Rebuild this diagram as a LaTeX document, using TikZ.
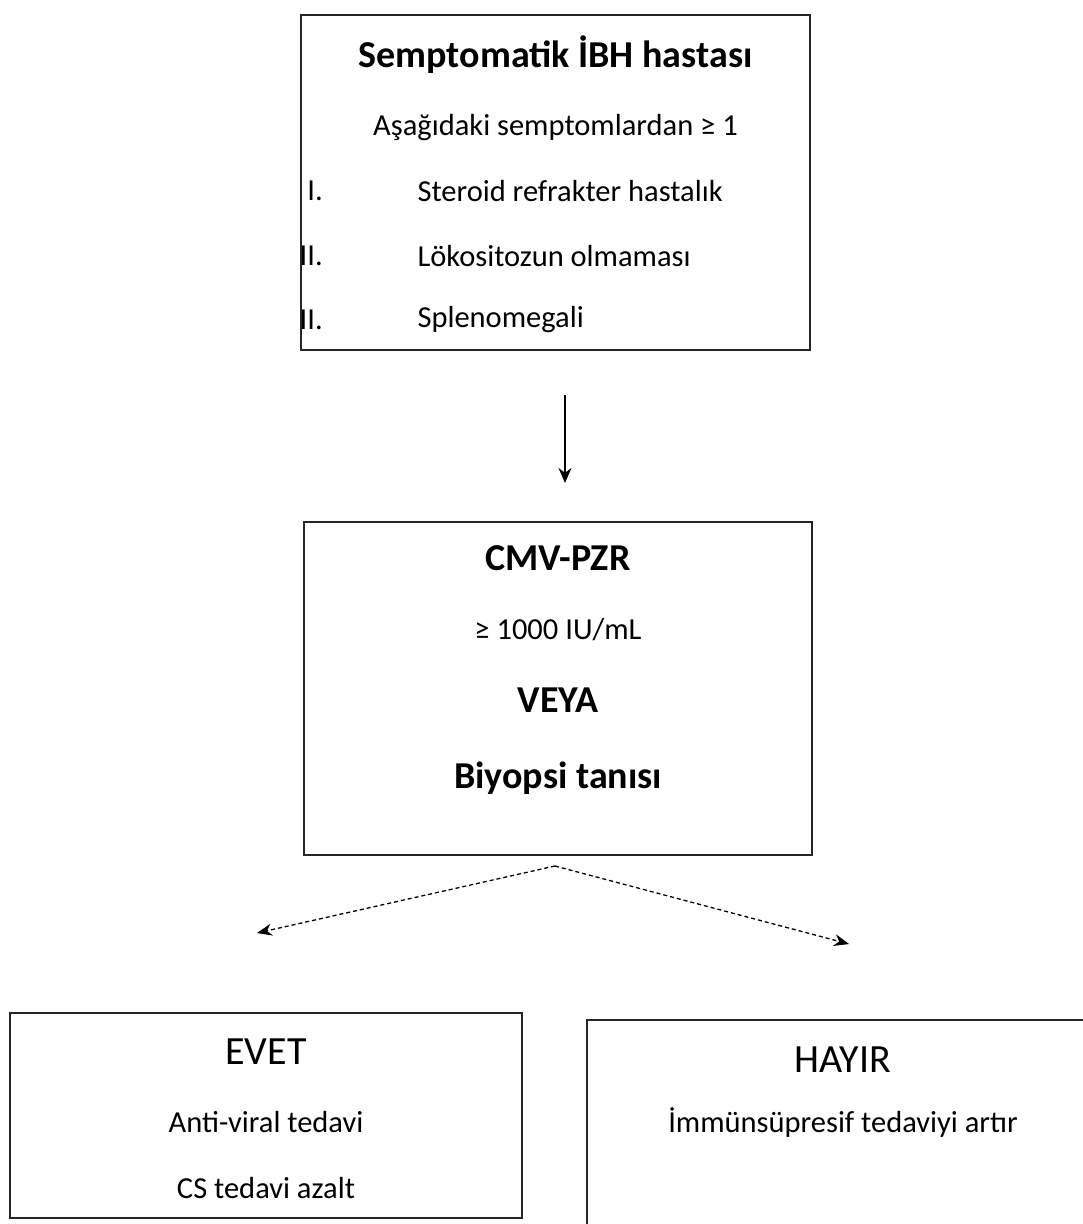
\documentclass[tikz,border=0pt]{standalone}
\usepackage{fontspec}
\setmainfont{Carlito}
\usepackage{tikz}
\usetikzlibrary{positioning}
\usetikzlibrary{shapes.geometric, arrows.meta}
\tikzstyle{arrow} = [-{Stealth[length=15pt,width=13pt]},line width=1.1pt]
\tikzstyle{dasharrow} = [-{Stealth[length=15pt,width=12pt]},line width=1.3pt,dash pattern=on 4pt off 3pt]
\tikzstyle{box} = [draw=black!85,line width=1.6pt,rectangle,inner sep=0pt]
\tikzstyle{head} = [font=\fontsize{38}{44}\selectfont\bfseries]
\tikzstyle{answer} = [font=\fontsize{40}{46}\selectfont]
\tikzstyle{body} = [font=\fontsize{30.5}{36}\selectfont]

\begin{document}
\begin{tikzpicture}[x=1pt,y=-1pt]
	\useasboundingbox (0,0) rectangle (1083,1224);
	% boxes
	\node[box,minimum width=509pt,minimum height=335pt] (patient) at (555.5,182.5) {};
	\node[box,minimum width=508pt,minimum height=333pt] (test) at (558,688.5) {};
	\node[box,minimum width=512pt,minimum height=205pt] (yes) at (266,1115.5) {};
	\node[box,minimum width=513pt,minimum height=220pt] (no) at (843.5,1130) {};
	% top box
	\node[head] (title) at (555.5,55) {Semptomatik İBH hastası};
	\node[body] (crit) at (555.5,128) {Aşağıdaki semptomlardan ≥ 1};
	\begin{scope}
		\clip (patient.north west) rectangle (patient.south east);
		\node[body,anchor=east,inner sep=0pt] (n1) at (323,191) {I.};
		\node[body,anchor=east,inner sep=0pt] (n2) at (323,256) {II.};
		\node[body,anchor=east,inner sep=0pt] (n3) at (323,320) {III.};
	\end{scope}
	\node[body,anchor=west] (s1) at (414,191) {Steroid refrakter hastalık};
	\node[body,anchor=west] (s2) at (414,256) {Lökositozun olmaması};
	\node[body,anchor=west] (s3) at (414,320) {Splenomegali};
	% middle box
	\node[head] (pcr) at (558,558) {CMV-PZR};
	\node[body] (level) at (558,630) {≥ 1000 IU/mL};
	\node[head] (or) at (558,700) {VEYA};
	\node[head] (biopsy) at (558,778) {Biyopsi tanısı};
	% bottom boxes
	\node[answer] (evet) at (266,1052) {EVET};
	\node[body] (antiviral) at (266,1122) {Anti-viral tedavi};
	\node[body] (cs) at (266,1188) {CS tedavi azalt};
	\node[answer] (hayir) at (843,1060) {HAYIR};
	\node[body] (immun) at (843,1122) {İmmünsüpresif tedaviyi artır};
	% connectors
	\coordinate (down top) at (565,395);
	\coordinate (down end) at (565,483);
	\draw[arrow] (down top) -- (down end);
	\coordinate (split) at (555,866);
	\coordinate (yes end) at (257,933);
	\coordinate (no end) at (849,944);
	\draw[dasharrow] (split) -- (yes end);
	\draw[dasharrow] (split) -- (no end);
\end{tikzpicture}
\end{document}
